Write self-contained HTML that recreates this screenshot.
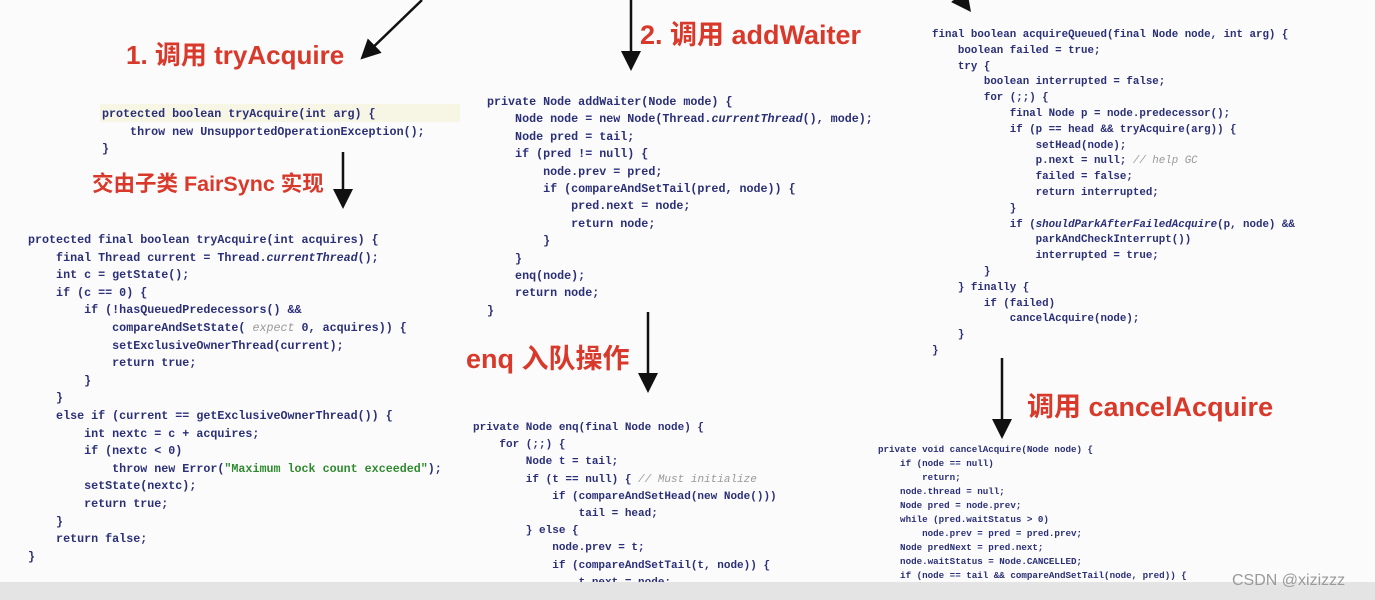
<!DOCTYPE html>
<html><head><meta charset="utf-8"><style>
body{margin:0;width:1375px;height:600px;background:#fbfbfb;position:relative;overflow:hidden;font-family:"Liberation Sans","Noto Sans CJK SC",sans-serif}
pre{position:absolute;margin:0;font-family:"Liberation Mono",monospace;font-weight:bold;color:#2a2f78;white-space:pre}
.t{position:absolute;color:#d8392b;font-weight:bold;font-size:27px;white-space:nowrap}
.g{color:#2f8a2f}.c{color:#999;font-style:italic;font-weight:normal}
.bar{position:absolute;left:0;top:582px;width:1375px;height:18px;background:#e4e4e4}
</style></head><body>
<svg width="1375" height="600" style="position:absolute;left:0;top:0">
<defs><marker id="a" markerWidth="8" markerHeight="8" refX="6" refY="4" orient="auto"><path d="M0,0 L8,4 L0,8z" fill="#111"/></marker></defs>
<g stroke="#111" stroke-width="2.5" fill="none" marker-end="url(#a)">
<line x1="422" y1="0" x2="364" y2="56"/>
<line x1="631" y1="0" x2="631" y2="66"/>
<line x1="343" y1="152" x2="343" y2="204"/>
<line x1="648" y1="312" x2="648" y2="388"/>
<line x1="1002" y1="358" x2="1002" y2="434"/>
<line x1="962" y1="0" x2="968" y2="8"/>
</g>
<rect x="100" y="104" width="360" height="18" fill="#f7f6e4"/>
</svg>
<div class="t" style="left:126px;top:35px;font-size:26px">1. 调用 tryAcquire</div>
<div class="t" style="left:640px;top:13px">2. 调用 addWaiter</div>
<div class="t" style="left:92px;top:167px;font-size:21.5px">交由子类 FairSync 实现</div>
<div class="t" style="left:466px;top:337px">enq 入队操作</div>
<div class="t" style="left:1027px;top:385px">调用 cancelAcquire</div>
<pre style="left:102px;top:106px;font-size:11.7px;line-height:17.5px">protected boolean tryAcquire(int arg) {
    throw new UnsupportedOperationException();
}</pre>
<pre style="left:28px;top:232px;font-size:11.7px;line-height:17.6px">protected final boolean tryAcquire(int acquires) {
    final Thread current = Thread.<i>currentThread</i>();
    int c = getState();
    if (c == 0) {
        if (!hasQueuedPredecessors() &amp;&amp;
            compareAndSetState( <span class="c">expect</span> 0, acquires)) {
            setExclusiveOwnerThread(current);
            return true;
        }
    }
    else if (current == getExclusiveOwnerThread()) {
        int nextc = c + acquires;
        if (nextc &lt; 0)
            throw new Error(<span class="g">"Maximum lock count exceeded"</span>);
        setState(nextc);
        return true;
    }
    return false;
}</pre>
<pre style="left:487px;top:94px;font-size:11.7px;line-height:17.4px">private Node addWaiter(Node mode) {
    Node node = new Node(Thread.<i>currentThread</i>(), mode);
    Node pred = tail;
    if (pred != null) {
        node.prev = pred;
        if (compareAndSetTail(pred, node)) {
            pred.next = node;
            return node;
        }
    }
    enq(node);
    return node;
}</pre>
<pre style="left:473px;top:420px;font-size:11px;line-height:17.2px">private Node enq(final Node node) {
    for (;;) {
        Node t = tail;
        if (t == null) { <span class="c">// Must initialize</span>
            if (compareAndSetHead(new Node()))
                tail = head;
        } else {
            node.prev = t;
            if (compareAndSetTail(t, node)) {
                t.next = node;</pre>
<pre style="left:932px;top:28px;font-size:10.8px;line-height:15.8px">final boolean acquireQueued(final Node node, int arg) {
    boolean failed = true;
    try {
        boolean interrupted = false;
        for (;;) {
            final Node p = node.predecessor();
            if (p == head &amp;&amp; tryAcquire(arg)) {
                setHead(node);
                p.next = null; <span class="c">// help GC</span>
                failed = false;
                return interrupted;
            }
            if (<i>shouldParkAfterFailedAcquire</i>(p, node) &amp;&amp;
                parkAndCheckInterrupt())
                interrupted = true;
        }
    } finally {
        if (failed)
            cancelAcquire(node);
    }
}</pre>
<pre style="left:878px;top:443px;font-size:9.2px;line-height:14px">private void cancelAcquire(Node node) {
    if (node == null)
        return;
    node.thread = null;
    Node pred = node.prev;
    while (pred.waitStatus &gt; 0)
        node.prev = pred = pred.prev;
    Node predNext = pred.next;
    node.waitStatus = Node.CANCELLED;
    if (node == tail &amp;&amp; compareAndSetTail(node, pred)) {</pre>
<div class="bar"></div>
<div style="position:absolute;left:1232px;top:572px;font-size:16px;color:#9a9a9a">CSDN @xizizzz</div>
</body></html>
